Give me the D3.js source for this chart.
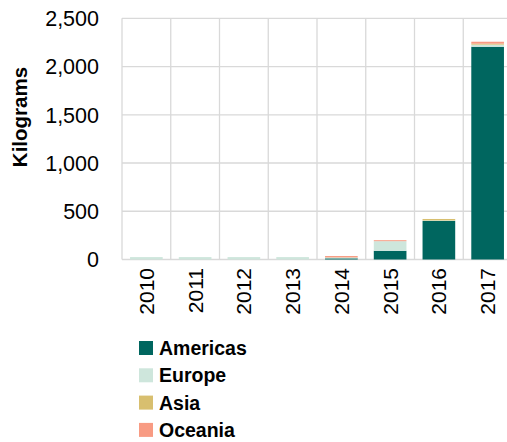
<!DOCTYPE html>
<html><head><meta charset="utf-8">
<script src="https://cdn.jsdelivr.net/npm/d3@7"></script>
<style>
html,body{margin:0;padding:0;background:#fff;overflow:hidden}
text{font-family:"Liberation Sans",Arial,sans-serif;fill:#000}
</style></head>
<body><svg id="c" width="507" height="442"></svg>
<script>
const years = ["2010","2011","2012","2013","2014","2015","2016","2017"];
const seriesNames = ["Americas","Europe","Asia","Oceania"];
const americas = [0,0,0,0,12,90,400,2205];
const europe = [25,25,25,25,8,100,5,22];
const asia = [0,0,0,0,2,0,15,10];
const oceania = [0,0,0,0,14,10,0,20];
const yTicks = [0,500,1000,1500,2000,2500];
const colors = ["#00665f","#cee6dc","#d8bf6f","#f89b83"];

(function(){
const rows = years.map((y,i)=>({year:y, Americas:americas[i], Europe:europe[i], Asia:asia[i], Oceania:oceania[i]}));
const stack = d3.stack().keys(seriesNames)(rows);

const svg = d3.select("#c");
const pLeft = 122, pRight = 512, pTop = 18.3, pBottom = 259.5;
const x = d3.scaleBand().domain(years).range([pLeft,pRight]).paddingInner(0.33).paddingOuter(0.165);
const y = d3.scaleLinear().domain([0,2500]).range([pBottom,pTop]);
const step = x.step();
const grid = "#d9d9d9";

svg.append("g").selectAll("line").data(yTicks).join("line")
  .attr("x1",pLeft).attr("x2",pRight)
  .attr("y1",d=>y(d)).attr("y2",d=>y(d))
  .attr("stroke",grid).attr("stroke-width",1.3);
svg.append("g").selectAll("line").data(d3.range(years.length+1)).join("line")
  .attr("x1",i=>pLeft+i*step).attr("x2",i=>pLeft+i*step)
  .attr("y1",pTop).attr("y2",pBottom)
  .attr("stroke",grid).attr("stroke-width",1.3);

svg.append("g").selectAll("g").data(stack).join("g")
  .attr("fill",(d,i)=>colors[i])
  .selectAll("rect").data(d=>d).join("rect")
  .attr("x",d=>x(d.data.year)).attr("width",x.bandwidth())
  .attr("y",d=>y(d[1])).attr("height",d=>Math.max(0,y(d[0])-y(d[1])));

const fmt = d3.format(",");
svg.append("g").selectAll("text").data(yTicks).join("text")
  .attr("x",99).attr("y",d=>y(d)).attr("dy","0.36em")
  .attr("text-anchor","end").style("font-size","21.5px")
  .text(d=>fmt(d));

svg.append("g").selectAll("text").data(years).join("text")
  .attr("transform",d=>`translate(${x(d)+x.bandwidth()/2},268) rotate(-90)`)
  .attr("text-anchor","end").attr("dy","0.36em").style("font-size","21px")
  .text(d=>d);

svg.append("text").attr("transform","translate(20,117) rotate(-90)")
  .attr("text-anchor","middle").attr("dy","0.36em")
  .style("font-size","20.5px").style("font-weight","bold").text("Kilograms");

const lg = svg.append("g").selectAll("g").data(seriesNames).join("g")
  .attr("transform",(d,i)=>`translate(139,${348+i*27.3})`);
lg.append("rect").attr("x",0).attr("y",-7).attr("width",14).attr("height",14)
  .attr("fill",(d,i)=>colors[i]);
lg.append("text").attr("x",20).attr("dy","0.36em")
  .style("font-size","19.5px").style("font-weight","bold").text(d=>d);
})();
</script></body></html>
